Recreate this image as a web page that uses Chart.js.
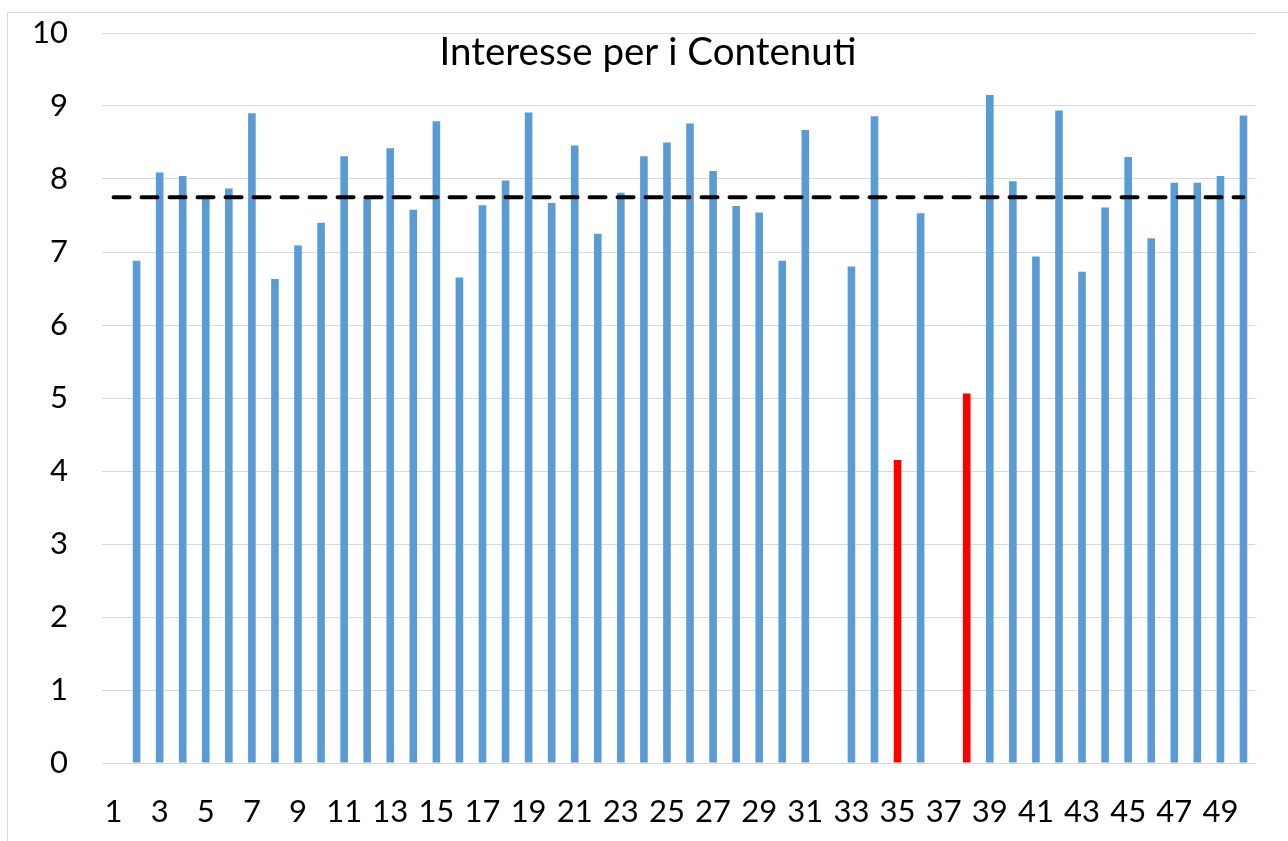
<!DOCTYPE html>
<html lang="it">

<head>
    <meta charset="UTF-8" />
    <title>Interesse per i Contenuti</title>
    <script src="https://cdn.jsdelivr.net/npm/chart.js"></script>
    <style>
        body {
            margin: 0;
            padding: 0;
            background: #fff;
        }

        .frame {
            position: absolute;
            left: 7px;
            top: 12px;
            width: 1300px;
            height: 900px;
            border: 1px solid #d9d9d9;
            box-sizing: border-box;
        }

        .chart-box {
            position: absolute;
            left: 0;
            top: 0;
            width: 1288px;
            height: 841px;
        }
    </style>
</head>

<body>
    <div class="frame"></div>
    <div class="chart-box">
        <canvas id="myChart" width="1288" height="841"></canvas>
    </div>

    <script>
        // categories 1..50
        const categories = ["1", "2", "3", "4", "5", "6", "7", "8", "9", "10",
            "11", "12", "13", "14", "15", "16", "17", "18", "19", "20",
            "21", "22", "23", "24", "25", "26", "27", "28", "29", "30",
            "31", "32", "33", "34", "35", "36", "37", "38", "39", "40",
            "41", "42", "43", "44", "45", "46", "47", "48", "49", "50"];

        // interest scores (null = no answer)
        const interest = [null, 6.88, 8.09, 8.04, 7.77, 7.87, 8.90, 6.63, 7.09, 7.40,
            8.31, 7.76, 8.42, 7.58, 8.79, 6.65, 7.64, 7.98, 8.91, 7.67,
            8.46, 7.25, 7.81, 8.31, 8.50, 8.76, 8.11, 7.63, 7.54, 6.88,
            8.67, null, 6.80, 8.86, 4.15, 7.53, null, 5.06, 9.15, 7.97,
            6.94, 8.94, 6.73, 7.61, 8.30, 7.19, 7.95, 7.95, 8.04, 8.87];

        // low scores highlighted in red
        const lowThreshold = 6;

        // mean line
        const meanValue = 7.75;
        const meanLine = categories.map(() => meanValue);

        const yTicks = [0, 1, 2, 3, 4, 5, 6, 7, 8, 9, 10];

        const barColors = interest.map((v) => (v !== null && v < lowThreshold ? "#ff0000" : "#5b9bd5"));

        // title drawn inside the plot area, like the original
        const titlePlugin = {
            id: "insideTitle",
            afterDraw(chart) {
                const ctx = chart.ctx;
                ctx.save();
                ctx.font = "38.5px Lato";
                ctx.fillStyle = "#000";
                ctx.textAlign = "center";
                ctx.textBaseline = "alphabetic";
                ctx.fillText("Interesse per i Contenuti", 648, 65);
                ctx.restore();
            },
        };

        // no extra room for label overflow, the padding below handles it
        function noOverflow(s) {
            s.paddingTop = 0;
            s.paddingBottom = 0;
            s.paddingLeft = 0;
            s.paddingRight = 0;
        }

        const ctx = document.getElementById("myChart").getContext("2d");
        const myChart = new Chart(ctx, {
            type: "bar",
            data: {
                labels: categories,
                datasets: [
                    {
                        type: "line",
                        label: "Media",
                        data: meanLine,
                        borderColor: "#000",
                        borderWidth: 4,
                        borderDash: [16, 12],
                        borderCapStyle: "round",
                        pointRadius: 0,
                        fill: false,
                        order: 0,
                    },
                    {
                        label: "Interesse",
                        data: interest,
                        backgroundColor: barColors,
                        borderWidth: 0,
                        categoryPercentage: 1,
                        barPercentage: 0.33,
                        order: 1,
                    },
                ],
            },
            options: {
                responsive: false,
                animation: false,
                layout: {
                    padding: { left: 0, right: 33, top: 33, bottom: 0 },
                },
                plugins: {
                    legend: { display: false },
                    tooltip: { enabled: false },
                    title: { display: false },
                },
                scales: {
                    x: {
                        grid: { display: false, drawTicks: false },
                        border: { display: false },
                        afterFit: (s) => { s.height = 78; noOverflow(s); },
                        ticks: {
                            autoSkip: false,
                            maxRotation: 0,
                            padding: 30,
                            color: "#000",
                            font: { family: "Lato", size: 31 },
                            callback: function (val, idx) {
                                return idx % 2 === 0 ? categories[idx] : "";
                            },
                        },
                    },
                    y: {
                        min: 0,
                        max: 10,
                        afterBuildTicks: (axis) => {
                            axis.ticks = yTicks.map((v) => ({ value: v }));
                        },
                        afterFit: (s) => { s.width = 102; noOverflow(s); },
                        grid: { color: "#d9d9d9", lineWidth: 1, drawTicks: false },
                        border: { display: false },
                        ticks: {
                            padding: 34,
                            color: "#000",
                            font: { family: "Lato", size: 31 },
                        },
                    },
                },
            },
            plugins: [titlePlugin],
        });
    </script>
</body>

</html>
